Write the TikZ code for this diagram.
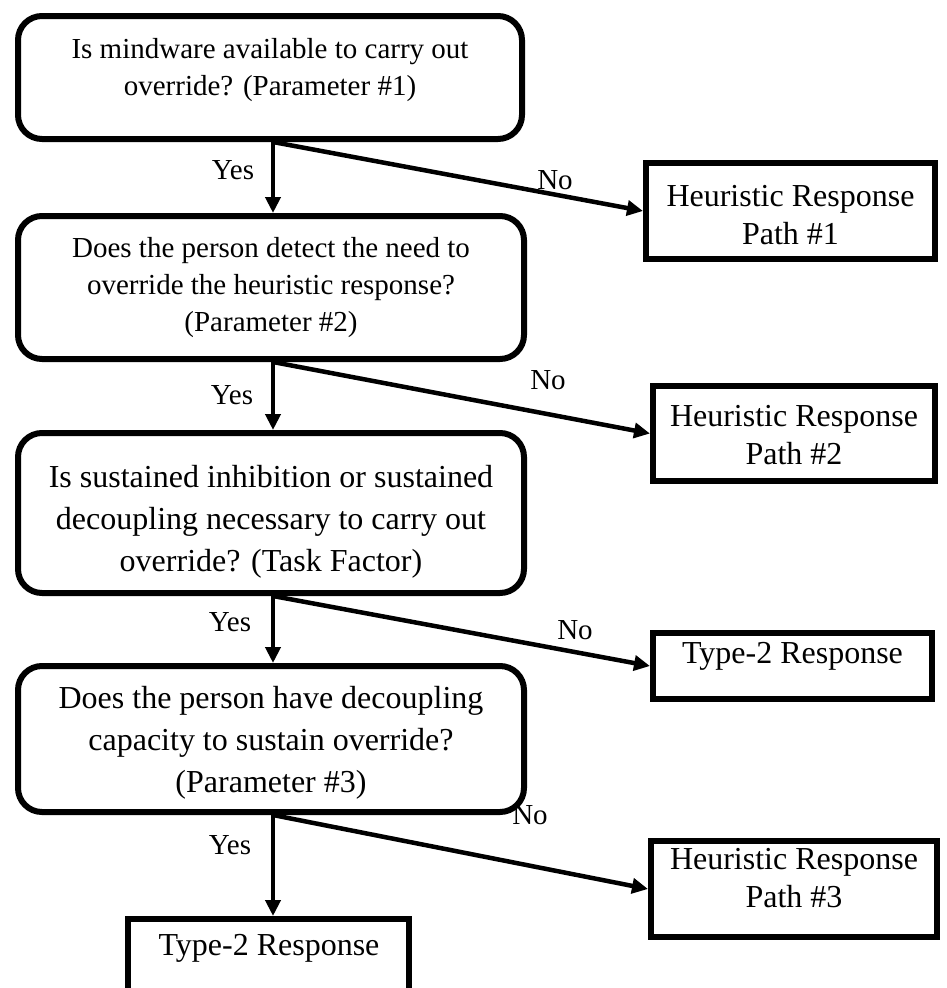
\documentclass[tikz,border=0pt]{standalone}
\usepackage{fontspec}
\setmainfont{Liberation Serif}
\usetikzlibrary{arrows.meta}
\begin{document}
\begin{tikzpicture}[x=1pt,y=-1pt,
  qbox/.style={draw, line width=6pt, rounded corners=24pt, inner sep=0pt},
  rbox/.style={draw, line width=6pt, inner sep=0pt},
  qtext/.style={align=center, inner sep=0pt},
  smalltxt/.style={font=\fontsize{29}{37}\selectfont},
  bigtxt/.style={font=\fontsize{32}{42}\selectfont},
  restxt/.style={font=\fontsize{32}{38}\selectfont},
  arr/.style={line width=4.5pt, -{Triangle[length=16pt,width=15pt]}},
  lab/.style={font=\fontsize{29}{34}\selectfont, inner sep=0pt}]
\useasboundingbox (0,0) rectangle (947,988);

% question boxes
\node[qbox, minimum width=504pt, minimum height=123pt] (q1) at (270,77.5) {};
\node[qtext, smalltxt] (q1t) at (270,70) {Is mindware available to carry out\\override? (Parameter \#1)};

\node[qbox, minimum width=506pt, minimum height=143pt] (q2) at (271,287.5) {};
\node[qtext, smalltxt] (q2t) at (271,288) {Does the person detect the need to\\override the heuristic response?\\(Parameter \#2)};

\node[qbox, minimum width=506pt, minimum height=160pt] (q3) at (271,513) {};
\node[qtext, bigtxt] (q3t) at (271,522) {Is sustained inhibition or sustained\\decoupling necessary to carry out\\override? (Task Factor)};

\node[qbox, minimum width=506pt, minimum height=146pt] (q4) at (271,739) {};
\node[qtext, bigtxt] (q4t) at (271,743) {Does the person have decoupling\\capacity to sustain override?\\(Parameter \#3)};

% response boxes
\node[rbox, minimum width=289pt, minimum height=96pt] (h1) at (790.5,211) {};
\node[qtext, restxt] (h1t) at (790.5,215) {Heuristic Response\\Path \#1};

\node[rbox, minimum width=282pt, minimum height=95pt] (h2) at (794,433.5) {};
\node[qtext, restxt] (h2t) at (794,435) {Heuristic Response\\Path \#2};

\node[rbox, minimum width=279pt, minimum height=66pt] (r3) at (792.5,666) {};
\node[qtext, restxt] (r3t) at (792.5,656) {Type-2 Response};

\node[rbox, minimum width=286pt, minimum height=96pt] (h4) at (794,889) {};
\node[qtext, restxt] (h4t) at (794,878) {Heuristic Response\\Path \#3};

\node[rbox, minimum width=281pt, minimum height=110pt, anchor=north] (r5) at (268.5,916) {};
\node[qtext, restxt] (r5t) at (269,948) {Type-2 Response};

% x position of the vertical arrows
\coordinate (yx) at (273,0);

% Yes arrows
\draw[arr] (q1.south -| yx) -- (q2.north -| yx);
\draw[arr] (q2.south -| yx) -- (q3.north -| yx);
\draw[arr] (q3.south -| yx) -- (q4.north -| yx);
\draw[arr] (q4.south -| yx) -- (r5.north -| yx);

% No arrows
\draw[arr] (q1.south -| yx) -- (h1.west);
\draw[arr] (q2.south -| yx) -- (h2.west);
\draw[arr] (q3.south -| yx) -- (r3.west);
\draw[arr] (q4.south -| yx) -- (h4.west);

% labels
\node[lab] (y1) at (233,170) {Yes};
\node[lab] (n1) at (555,180) {No};
\node[lab] (y2) at (232,395) {Yes};
\node[lab] (n2) at (548,380) {No};
\node[lab] (y3) at (230,622) {Yes};
\node[lab] (n3) at (575,630) {No};
\node[lab] (y4) at (230,845) {Yes};
\node[lab] (n4) at (530,815) {No};
\end{tikzpicture}
\end{document}
